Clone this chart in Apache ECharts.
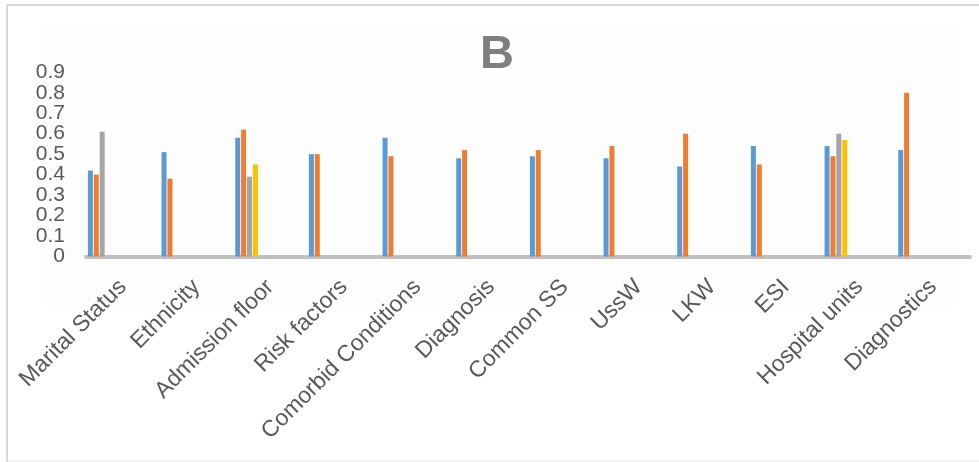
<!DOCTYPE html>
<html>
<head>
<meta charset="utf-8">
<script src="https://cdn.jsdelivr.net/npm/echarts@6/dist/echarts.min.js"></script>
<style>html,body{margin:0;padding:0;background:#fff;}#c{width:979px;height:462px;}</style>
</head>
<body>
<div id="c"></div>
<script>
const categories = ['Marital Status','Ethnicity','Admission floor','Risk factors','Comorbid Conditions','Diagnosis','Common SS','UssW','LKW','ESI','Hospital units','Diagnostics'];
const series1 = [0.42,0.51,0.58,0.50,0.58,0.48,0.49,0.48,0.44,0.54,0.54,0.52];
const series2 = [0.40,0.38,0.62,0.50,0.49,0.52,0.52,0.54,0.60,0.45,0.49,0.80];
const series3 = [0.61,null,0.39,null,null,null,null,null,null,null,0.60,null];
const series4 = [null,null,0.45,null,null,null,null,null,null,null,0.57,null];
const yTicks = [0,0.1,0.2,0.3,0.4,0.5,0.6,0.7,0.8,0.9];
const colors = ['#5B9BD5','#ED7D31','#A5A5A5','#FFC000'];

const chart = echarts.init(document.getElementById('c'), null, {renderer:'canvas'});
const real = [series1, series2, series3, series4].map((d,i)=>({
  type:'bar', data:d, barWidth:5, barGap:'18%', itemStyle:{color:colors[i]}, silent:true, yAxisIndex:0
}));
const empties = [];
for (let i=0;i<8;i++) empties.push({type:'bar', data:[], barWidth:5, barGap:'18%', yAxisIndex:0});

function yAxisFor(parity){
  return {
    type:'value', min:0, max:0.9, interval:0.1, position:'left', offset:0,
    axisLine:{show:false}, axisTick:{show:false}, splitLine:{show:false},
    axisLabel:{margin:21, showMinLabel:true, showMaxLabel:true, hideOverlap:false,
      fontFamily:'Liberation Sans', fontSize:21, color:'#595959',
      formatter:function(v){
        const idx = yTicks.findIndex(x=>Math.abs(x-v)<1e-9);
        if (idx<0 || idx%2!==parity) return '';
        return String(yTicks[idx]);
      }}
  };
}

chart.setOption({
  animation:false,
  backgroundColor:'#ffffff',
  title:{text:'B', left:475, top:27, textStyle:{fontFamily:'Liberation Sans', fontWeight:'bold', fontSize:47, color:'#7F7F7F'}},
  graphic:[
    {type:'rect', shape:{x:42,y:30,width:916,height:275}, style:{fill:'#FDFDFD'}, z:-10, silent:true},
    {type:'line', shape:{x1:7,y1:5,x2:979,y2:5}, style:{stroke:'#D9D9D9', lineWidth:2}, silent:true},
    {type:'line', shape:{x1:7,y1:5,x2:7,y2:462}, style:{stroke:'#D9D9D9', lineWidth:2}, silent:true},
    {type:'line', shape:{x1:7,y1:461,x2:979,y2:461}, style:{stroke:'#EDEDED', lineWidth:1}, silent:true}
  ],
  grid:{left:86, right:9, top:72.3, bottom:205.5, containLabel:false},
  xAxis:{
    type:'category', data:categories,
    axisLine:{show:true, lineStyle:{color:'#BFBFBF', width:4}},
    axisTick:{show:false},
    axisLabel:{rotate:45, interval:0, margin:27, hideOverlap:false, fontFamily:'Liberation Sans', fontSize:23, color:'#595959'}
  },
  yAxis:[yAxisFor(0), yAxisFor(1)],
  series: real.concat(empties)
});
</script>
</body>
</html>
